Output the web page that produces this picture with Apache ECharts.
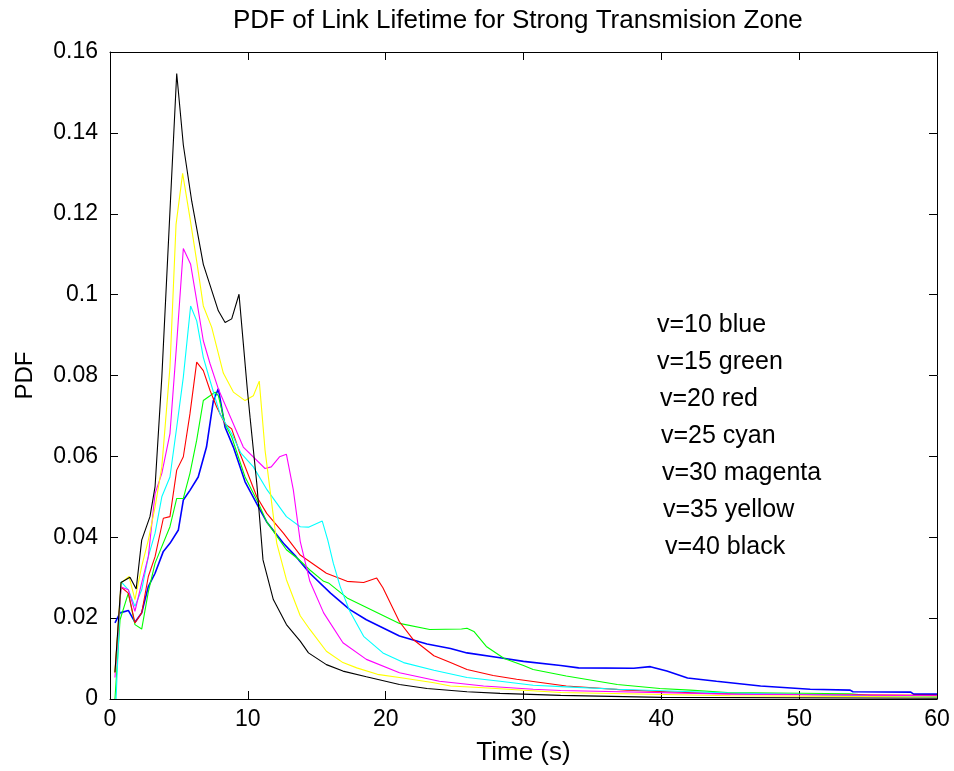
<!DOCTYPE html>
<html>
<head>
<meta charset="utf-8">
<script src="https://cdn.jsdelivr.net/npm/echarts@6/dist/echarts.min.js"></script>
<style>html,body{margin:0;padding:0;background:#fff}#c{width:954px;height:771px}</style>
</head>
<body>
<div id="c"></div>
<script>
const titleText = 'PDF of Link Lifetime for Strong Transmision Zone';
const xName = 'Time (s)';
const yName = 'PDF';
const xTicks = [0, 10, 20, 30, 40, 50, 60];
const yTicks = [0, 0.02, 0.04, 0.06, 0.08, 0.1, 0.12, 0.14, 0.16];
const legendLines = ['v=10 blue', 'v=15 green', 'v=20 red', 'v=25 cyan', 'v=30 magenta', 'v=35 yellow', 'v=40 black'];
const seriesNames = ['v=10', 'v=15', 'v=20', 'v=25', 'v=30', 'v=35', 'v=40'];
const seriesColors = ['#0000ff', '#00ff00', '#ff0000', '#00ffff', '#ff00ff', '#ffff00', '#000000'];

const v10 = [[0.36,0.0188],[0.73,0.0213],[1.33,0.0219],[1.81,0.019],[2.3,0.0213],[2.78,0.0278],[3.27,0.0311],[3.87,0.0365],[4.35,0.0385],[4.96,0.0418],[5.32,0.0492],[5.8,0.0516],[6.4,0.0549],[7.0,0.0623],[7.5,0.0738],[7.86,0.0767],[8.35,0.0672],[8.95,0.0623],[9.8,0.0537],[10.77,0.0475],[11.37,0.0438],[12.58,0.0385],[13.5,0.0352],[14.5,0.0311],[16.0,0.0262],[17.4,0.0221],[18.6,0.0196],[21.0,0.0156],[23.0,0.0136],[24.7,0.0125],[25.9,0.0114],[28.3,0.0102],[30.0,0.0093],[32.7,0.0083],[34.0,0.0077],[38.0,0.0076],[39.2,0.008],[40.4,0.0069],[41.9,0.0052],[44.0,0.0044],[47.2,0.0032],[50.8,0.0024],[53.7,0.0022],[53.9,0.0018],[58.1,0.0017],[58.3,0.0012],[60,0.0012]];
const v15 = [[0.36,0],[0.73,0.0196],[1.33,0.0262],[1.81,0.0184],[2.3,0.0173],[2.78,0.0265],[3.27,0.0336],[4.35,0.0426],[4.84,0.0496],[5.32,0.0496],[5.8,0.0558],[6.29,0.064],[6.77,0.0738],[7.26,0.075],[7.62,0.0759],[7.86,0.075],[8.35,0.068],[8.83,0.0648],[9.8,0.0549],[10.77,0.0484],[11.37,0.0438],[12.8,0.0369],[13.7,0.0345],[14.5,0.0319],[15.5,0.0291],[15.85,0.0287],[17.2,0.025],[21.0,0.0187],[23.2,0.0172],[25.5,0.0173],[25.9,0.0175],[26.4,0.0167],[27.3,0.013],[28.6,0.01],[30.0,0.0083],[30.7,0.0073],[33.1,0.0057],[36.8,0.0036],[39.9,0.0026],[42.1,0.0022],[44.8,0.0016],[53.7,0.0013],[55.6,0.0007],[60,0.0007]];
const v20 = [[0.36,0.0065],[0.8,0.0277],[1.33,0.0262],[1.81,0.0188],[2.3,0.0213],[2.78,0.0303],[3.27,0.0352],[3.87,0.0447],[4.35,0.0451],[4.84,0.0566],[5.32,0.0599],[5.8,0.0705],[6.29,0.0833],[6.77,0.0812],[7.26,0.0763],[7.74,0.0722],[8.35,0.068],[8.83,0.0668],[9.43,0.0607],[10.65,0.05],[11.37,0.0459],[12.58,0.041],[13.8,0.0356],[15.7,0.0311],[17.2,0.0291],[18.4,0.0288],[19.35,0.0299],[19.8,0.0275],[21.0,0.0191],[22.0,0.0147],[23.5,0.0107],[24.7,0.009],[25.9,0.0073],[27.8,0.0058],[29.5,0.0049],[33.1,0.0032],[37.5,0.0022],[40.4,0.0018],[43.5,0.0014],[50,0.0011],[60,0.0009]];
const v25 = [[0.44,0],[0.8,0.029],[1.33,0.027],[1.81,0.0229],[2.3,0.027],[2.78,0.0352],[3.27,0.041],[3.76,0.05],[4.35,0.0549],[4.84,0.0672],[5.32,0.0796],[5.85,0.0972],[6.29,0.0935],[6.77,0.0845],[7.26,0.0787],[7.98,0.0705],[8.83,0.0656],[9.5,0.0608],[10.4,0.0574],[11.4,0.0517],[12.8,0.0451],[13.8,0.0426],[14.4,0.0425],[15.4,0.044],[15.8,0.0393],[16.2,0.0336],[16.7,0.0278],[17.4,0.0217],[18.4,0.0155],[19.8,0.0114],[21.3,0.009],[23.5,0.0071],[25.9,0.0053],[28.3,0.0044],[30.7,0.0034],[33.1,0.003],[36.8,0.0024],[45,0.0015],[55,0.0008],[60,0.0005]];
const v30 = [[0.36,0.0053],[0.8,0.0277],[1.33,0.027],[1.81,0.0217],[2.3,0.0287],[2.78,0.0352],[3.27,0.0508],[3.76,0.0558],[4.35,0.0656],[4.84,0.088],[5.32,0.1114],[5.85,0.1075],[6.29,0.0985],[6.77,0.0886],[7.26,0.0829],[7.86,0.0767],[8.22,0.0738],[9.67,0.0623],[11.25,0.057],[11.7,0.0574],[12.3,0.0599],[12.8,0.0605],[13.3,0.0517],[13.8,0.039],[14.5,0.0291],[15.5,0.0213],[16.9,0.0139],[18.6,0.0098],[21.0,0.0065],[23.9,0.0044],[27.1,0.0032],[30.7,0.0024],[32.7,0.0021],[45,0.0012],[60,0.0008]];
const v35 = [[0.36,0.0065],[0.8,0.0287],[1.38,0.0303],[1.81,0.0246],[2.3,0.0328],[2.78,0.0393],[3.27,0.0475],[3.76,0.0574],[4.35,0.082],[4.79,0.1173],[5.27,0.13],[5.8,0.119],[6.29,0.1083],[6.77,0.0972],[7.38,0.0919],[8.22,0.0806],[8.95,0.0759],[9.8,0.0738],[10.4,0.075],[10.83,0.0786],[11.25,0.0615],[12.1,0.0385],[12.8,0.0295],[13.8,0.0206],[14.5,0.0172],[15.7,0.0118],[16.9,0.009],[17.9,0.0077],[19.4,0.0061],[21.0,0.0053],[23.5,0.004],[24.7,0.0032],[27.1,0.0028],[32.7,0.0016],[45,0.0008],[60,0.0005]];
const v40 = [[0.36,0.0066],[0.8,0.0288],[1.45,0.0301],[1.9,0.0272],[2.3,0.0393],[2.9,0.0451],[3.27,0.0525],[3.76,0.0796],[4.84,0.1547],[5.32,0.137],[5.93,0.1231],[6.77,0.1075],[7.86,0.096],[8.35,0.0931],[8.83,0.094],[9.36,0.1001],[9.67,0.088],[9.97,0.0763],[10.16,0.0697],[10.65,0.0533],[11.1,0.0344],[11.85,0.0246],[12.8,0.0184],[13.8,0.0143],[14.4,0.0114],[15.7,0.0085],[16.9,0.0069],[18.6,0.0055],[21.0,0.0036],[23.0,0.0026],[25.9,0.0018],[28.3,0.0014],[32.7,0.0009],[40,0.0004],[60,0.0002]];
const seriesData = [v10, v15, v20, v25, v30, v35, v40];

const FONT = '"Liberation Sans", Arial, Helvetica, sans-serif';
const chart = echarts.init(document.getElementById('c'), null, {renderer: 'canvas'});

function fmtY(v) { return String(Math.round(v * 1000) / 1000); }

const axisCommon = {
  axisLine: {show: true, onZero: false, lineStyle: {color: '#000', width: 1}},
  axisTick: {show: true, inside: true, length: 8, lineStyle: {color: '#000', width: 1}},
  splitLine: {show: false}
};

const option = {
  animation: false,
  backgroundColor: '#fff',
  grid: {left: 110, right: 17, top: 52, bottom: 72, containLabel: false, outerBoundsMode: 'none'},
  xAxis: [
    Object.assign({}, axisCommon, {
      type: 'value', min: xTicks[0], max: xTicks[xTicks.length - 1], interval: xTicks[1] - xTicks[0],
      position: 'bottom',
      name: xName, nameLocation: 'middle', nameGap: 41,
      nameTextStyle: {fontFamily: FONT, fontSize: 26, color: '#000'},
      axisLabel: {fontFamily: FONT, fontSize: 23, color: '#000', margin: 9}
    }),
    Object.assign({}, axisCommon, {
      type: 'value', min: xTicks[0], max: xTicks[xTicks.length - 1], interval: xTicks[1] - xTicks[0],
      position: 'top', axisLabel: {show: false}
    })
  ],
  yAxis: [
    Object.assign({}, axisCommon, {
      type: 'value', min: yTicks[0], max: yTicks[yTicks.length - 1], interval: 0.02,
      position: 'left',
      name: yName, nameLocation: 'middle', nameGap: 73,
      nameTextStyle: {fontFamily: FONT, fontSize: 24, color: '#000'},
      axisLabel: {fontFamily: FONT, fontSize: 23, color: '#000', margin: 12, formatter: fmtY}
    }),
    Object.assign({}, axisCommon, {
      type: 'value', min: yTicks[0], max: yTicks[yTicks.length - 1], interval: 0.02,
      position: 'right', axisLabel: {show: false}
    })
  ],
  series: seriesData.map((d, i) => ({
    type: 'line', name: seriesNames[i], data: d, xAxisIndex: 0, yAxisIndex: 0,
    showSymbol: false, symbol: 'none', smooth: false,
    lineStyle: {color: seriesColors[i], width: i === 0 ? 1.6 : 1.1},
    itemStyle: {color: seriesColors[i]},
    z: 2 + i
  })),
  graphic: [
    {type: 'text', left: 233, top: 8, style: {text: titleText, font: '26px ' + FONT, fill: '#000'}}
  ].concat(legendLines.map((t, i) => ({
    type: 'text', left: 657 + [0, 0, 3, 4, 5, 6, 8][i], top: 313 + i * 37,
    style: {text: t, font: '25px ' + FONT, fill: '#000'}
  })))
};
chart.setOption(option);
</script>
</body>
</html>
